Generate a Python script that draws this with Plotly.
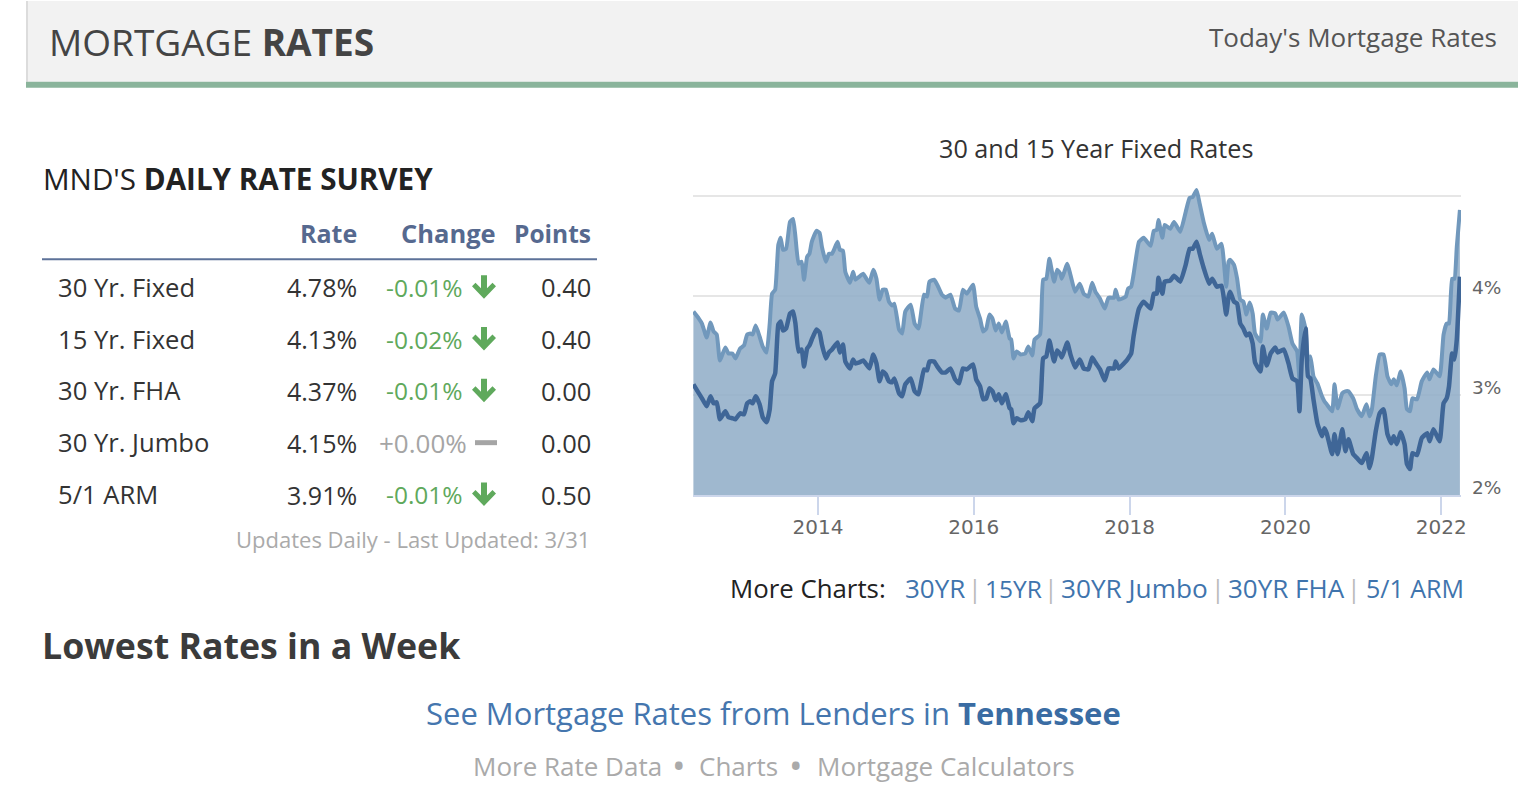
import plotly.graph_objects as go

# ---------------------------------------------
# Data
# ---------------------------------------------
dates = [
    2012.40, 2012.47, 2012.51, 2012.57, 2012.62, 2012.66, 2012.70, 2012.74, 2012.81, 2012.85,
    2012.90, 2012.94, 2013.00, 2013.05, 2013.09, 2013.13, 2013.16, 2013.20, 2013.25, 2013.29,
    2013.34, 2013.38, 2013.41, 2013.45, 2013.49, 2013.52, 2013.55, 2013.59, 2013.64, 2013.68,
    2013.71, 2013.75, 2013.79, 2013.82, 2013.86, 2013.89, 2013.92, 2013.98, 2014.02, 2014.05,
    2014.10, 2014.14, 2014.18, 2014.25, 2014.28, 2014.32, 2014.35, 2014.41, 2014.45, 2014.48,
    2014.53, 2014.58, 2014.62, 2014.66, 2014.71, 2014.75, 2014.79, 2014.83, 2014.87, 2014.91,
    2014.95, 2014.98, 2015.04, 2015.08, 2015.12, 2015.19, 2015.24, 2015.29, 2015.36, 2015.40,
    2015.43, 2015.49, 2015.53, 2015.59, 2015.64, 2015.70, 2015.76, 2015.81, 2015.86, 2015.91,
    2015.99, 2016.03, 2016.08, 2016.12, 2016.16, 2016.20, 2016.24, 2016.28, 2016.32, 2016.36,
    2016.41, 2016.46, 2016.48, 2016.51, 2016.55, 2016.60, 2016.66, 2016.70, 2016.75, 2016.78,
    2016.85, 2016.89, 2016.93, 2016.97, 2017.03, 2017.07, 2017.11, 2017.13, 2017.20, 2017.24,
    2017.30, 2017.36, 2017.41, 2017.47, 2017.52, 2017.56, 2017.62, 2017.68, 2017.73, 2017.80,
    2017.82, 2017.86, 2017.95, 2017.98, 2018.02, 2018.05, 2018.12, 2018.18, 2018.27, 2018.31,
    2018.35, 2018.37, 2018.42, 2018.45, 2018.52, 2018.57, 2018.65, 2018.72, 2018.77, 2018.81,
    2018.86, 2018.90, 2018.95, 2019.02, 2019.06, 2019.12, 2019.18, 2019.24, 2019.27, 2019.29,
    2019.34, 2019.38, 2019.42, 2019.46, 2019.50, 2019.54, 2019.58, 2019.61, 2019.68, 2019.71,
    2019.76, 2019.81, 2019.87, 2019.90, 2019.98, 2020.04, 2020.09, 2020.15, 2020.18, 2020.21,
    2020.26, 2020.29, 2020.32, 2020.36, 2020.41, 2020.47, 2020.50, 2020.53, 2020.60, 2020.63,
    2020.67, 2020.73, 2020.77, 2020.81, 2020.87, 2020.92, 2020.98, 2021.04, 2021.08, 2021.11,
    2021.16, 2021.21, 2021.26, 2021.31, 2021.36, 2021.39, 2021.43, 2021.48, 2021.53, 2021.56,
    2021.60, 2021.63, 2021.69, 2021.75, 2021.82, 2021.85, 2021.90, 2021.98, 2022.03, 2022.07,
    2022.10, 2022.14, 2022.17, 2022.20, 2022.24,
]
rate_30yr = [
    3.84, 3.77, 3.72, 3.58, 3.73, 3.64, 3.61, 3.35, 3.48, 3.42,
    3.42, 3.37, 3.47, 3.50, 3.61, 3.62, 3.61, 3.70, 3.59, 3.49,
    3.43, 3.72, 4.02, 4.06, 4.51, 4.58, 4.46, 4.47, 4.74, 4.77,
    4.59, 4.32, 4.34, 4.16, 4.39, 4.42, 4.54, 4.65, 4.63, 4.49,
    4.34, 4.42, 4.42, 4.54, 4.46, 4.45, 4.24, 4.13, 4.24, 4.16,
    4.19, 4.22, 4.17, 4.13, 4.26, 4.17, 3.96, 4.06, 4.06, 3.94,
    3.90, 3.92, 3.66, 3.62, 3.84, 3.91, 3.72, 3.67, 4.01, 3.99,
    4.14, 4.16, 4.11, 4.01, 3.98, 4.01, 3.87, 3.85, 4.06, 4.02,
    4.11, 3.89, 3.77, 3.64, 3.67, 3.81, 3.77, 3.65, 3.72, 3.63,
    3.74, 3.57, 3.56, 3.37, 3.44, 3.41, 3.42, 3.49, 3.40, 3.56,
    3.61, 4.16, 4.17, 4.37, 4.14, 4.26, 4.22, 4.17, 4.32, 4.21,
    4.04, 4.12, 4.02, 3.99, 4.13, 4.04, 3.97, 3.87, 3.98, 3.98,
    4.06, 3.96, 3.99, 4.07, 4.09, 4.21, 4.54, 4.58, 4.50, 4.65,
    4.66, 4.76, 4.58, 4.71, 4.67, 4.74, 4.64, 4.84, 4.98, 4.99,
    5.06, 4.92, 4.74, 4.56, 4.62, 4.47, 4.52, 4.09, 4.34, 4.36,
    4.31, 4.17, 3.96, 3.94, 3.81, 3.93, 3.82, 3.62, 3.54, 3.81,
    3.67, 3.83, 3.82, 3.76, 3.83, 3.69, 3.52, 3.44, 3.16, 3.81,
    3.66, 3.36, 3.39, 3.19, 3.12, 2.99, 2.94, 2.91, 2.84, 3.11,
    2.87, 3.02, 3.04, 3.04, 2.97, 2.86, 2.79, 2.91, 2.79, 2.86,
    3.19, 3.41, 3.41, 3.19, 3.11, 3.16, 3.10, 3.24, 3.07, 2.86,
    2.84, 2.97, 2.96, 3.14, 3.23, 3.16, 3.26, 3.19, 3.61, 3.72,
    3.72, 4.17, 4.17, 4.49, 4.86,
]
rate_15yr = [
    3.11, 3.02, 2.97, 2.89, 2.99, 2.92, 2.93, 2.76, 2.84, 2.78,
    2.77, 2.76, 2.82, 2.81, 2.92, 2.94, 2.92, 2.99, 2.91, 2.78,
    2.73, 2.86, 3.14, 3.22, 3.71, 3.74, 3.65, 3.67, 3.82, 3.84,
    3.72, 3.44, 3.46, 3.29, 3.47, 3.50, 3.56, 3.66, 3.63, 3.51,
    3.37, 3.43, 3.46, 3.53, 3.43, 3.51, 3.34, 3.27, 3.36, 3.32,
    3.33, 3.35, 3.31, 3.27, 3.41, 3.32, 3.14, 3.24, 3.21, 3.14,
    3.13, 3.17, 3.02, 2.99, 3.11, 3.17, 3.04, 3.01, 3.26, 3.25,
    3.34, 3.34, 3.29, 3.23, 3.23, 3.27, 3.16, 3.12, 3.27, 3.26,
    3.31, 3.16, 3.09, 2.96, 2.97, 3.07, 3.04, 2.95, 3.01, 2.92,
    3.01, 2.87, 2.86, 2.72, 2.77, 2.75, 2.76, 2.83, 2.74, 2.87,
    2.92, 3.37, 3.39, 3.55, 3.34, 3.45, 3.41, 3.38, 3.53, 3.41,
    3.28, 3.36, 3.27, 3.26, 3.38, 3.33, 3.26, 3.15, 3.27, 3.27,
    3.34, 3.27, 3.34, 3.37, 3.42, 3.59, 3.87, 3.94, 3.87, 4.02,
    4.02, 4.18, 4.02, 4.14, 4.15, 4.20, 4.14, 4.31, 4.47, 4.47,
    4.54, 4.42, 4.28, 4.12, 4.17, 4.09, 4.10, 3.81, 3.99, 4.04,
    3.94, 3.92, 3.72, 3.67, 3.60, 3.62, 3.52, 3.33, 3.24, 3.49,
    3.30, 3.42, 3.48, 3.43, 3.46, 3.32, 3.17, 3.14, 2.84, 3.36,
    3.67, 3.19, 3.17, 2.96, 2.72, 2.59, 2.67, 2.62, 2.41, 2.61,
    2.41, 2.66, 2.44, 2.56, 2.41, 2.37, 2.32, 2.42, 2.27, 2.37,
    2.64, 2.82, 2.86, 2.61, 2.52, 2.59, 2.51, 2.63, 2.51, 2.31,
    2.26, 2.42, 2.40, 2.57, 2.62, 2.54, 2.66, 2.54, 2.92, 2.97,
    3.09, 3.42, 3.36, 3.56, 4.19,
]

x_ticks = [2014, 2016, 2018, 2020, 2022]
y_ticks = [2, 3, 4, 5]
y_labels = ["2%", "3%", "4%"]

products = ["30 Yr. Fixed", "15 Yr. Fixed", "30 Yr. FHA", "30 Yr. Jumbo", "5/1 ARM"]
rates = ["4.78%", "4.13%", "4.37%", "4.15%", "3.91%"]
changes = ["-0.01%", "-0.02%", "-0.01%", "+0.00%", "-0.01%"]
points = ["0.40", "0.40", "0.00", "0.00", "0.50"]

FONT = "Open Sans"
W, H = 1522, 796
LEFT, RIGHT, TOP, BOTTOM = 693, 1461, 185.5, 495.5


# page pixels to paper fractions
def px(x):
    return (x - LEFT) / (RIGHT - LEFT)


def py(y):
    return (BOTTOM - y) / (BOTTOM - TOP)


fig = go.Figure()
fig.add_trace(go.Scatter(
    x=dates, y=rate_30yr, mode="lines", name="30 Yr. Fixed",
    line=dict(color="#7198bc", width=4, shape="spline", smoothing=0.4),
    fill="tozeroy", fillcolor="rgba(142,172,199,0.85)",
))
fig.add_trace(go.Scatter(
    x=dates, y=rate_15yr, mode="lines", name="15 Yr. Fixed",
    line=dict(color="#3f6697", width=4.5, shape="spline", smoothing=0.4),
))

annotations = []


def text(x, y, s, size, color, anchor="left"):
    annotations.append(dict(
        x=px(x), y=py(y), xref="paper", yref="paper", text=s, showarrow=False,
        xanchor=anchor, yanchor="middle", borderpad=0, borderwidth=0,
        font=dict(family=FONT, size=size, color=color),
    ))


shapes = [
    dict(type="rect", xref="paper", yref="paper", x0=px(27), x1=px(1518), y0=py(0), y1=py(81),
         fillcolor="#f2f2f2", line=dict(width=0), layer="below"),
    dict(type="rect", xref="paper", yref="paper", x0=px(26), x1=px(28), y0=py(0), y1=py(81),
         fillcolor="#dcdcdc", line=dict(width=0), layer="below"),
    dict(type="rect", xref="paper", yref="paper", x0=px(26), x1=px(1518), y0=py(81), y1=py(87),
         fillcolor="#8ab49b", line=dict(width=0), layer="below"),
    dict(type="line", xref="paper", yref="paper", x0=px(42), x1=px(597), y0=py(259), y1=py(259),
         line=dict(color="#5d7299", width=2)),
]


def down_arrow(cx, cy):
    pts = [(-3, -12), (3, -12), (3, 1), (8.5, -4.5), (12, -1), (0, 11.5),
           (-12, -1), (-8.5, -4.5), (-3, 1)]
    d = "M" + " L".join(f"{px(cx + a):.5f},{py(cy + b):.5f}" for a, b in pts) + " Z"
    return dict(type="path", xref="paper", yref="paper", path=d,
                fillcolor="#5fa95c", line=dict(width=0))


text(49, 41, "MORTGAGE <b>RATES</b>", 37, "#444444")
text(1497, 36, "Today's Mortgage Rates", 26, "#555555", "right")
text(43, 178, "MND'S <b>DAILY RATE SURVEY</b>", 29.6, "#222222")

text(357, 233, "<b>Rate</b>", 25, "#56698f", "right")
text(496, 233, "<b>Change</b>", 25.5, "#56698f", "right")
text(591, 233, "<b>Points</b>", 24.5, "#56698f", "right")

for i in range(len(products)):
    row_y = 287 + i * 52
    text(58, row_y, products[i], 25.6, "#333333")
    text(357, row_y, rates[i], 25, "#333333", "right")
    text(591, row_y, points[i], 25.5, "#333333", "right")
    if changes[i].startswith("+"):
        text(467, row_y, changes[i], 26, "#a5a5a5", "right")
        shapes.append(dict(type="rect", xref="paper", yref="paper", x0=px(475), x1=px(497),
                           y0=py(row_y - 2.5), y1=py(row_y + 2.5),
                           fillcolor="#a5a5a5", line=dict(width=0)))
    else:
        text(463, row_y, changes[i], 24.5, "#5fa95c", "right")
        shapes.append(down_arrow(484, row_y))

text(590, 540, "Updates Daily - Last Updated: 3/31", 22, "#aaaaaa", "right")

text(1096, 147, "30 and 15 Year Fixed Rates", 25.2, "#333333", "center")

text(730, 589, "More Charts:", 25.8, "#222222")
for left, label, size in [(905, "30YR", 26), (985, "15YR", 24.5), (1061, "30YR Jumbo", 26.2),
                          (1228, "30YR FHA", 26), (1366, "5/1 ARM", 25)]:
    text(left, 589, label, size, "#3f74ad")
for sep_x in [975, 1051, 1218, 1354]:
    text(sep_x, 589, "|", 25, "#bbbbbb", "center")

text(42, 646, "<b>Lowest Rates in a Week</b>", 35.7, "#3b3b3b")
text(773, 714, "See Mortgage Rates from Lenders in <b style='color:#3a6ca3'>Tennessee</b>", 31, "#4576ae", "center")
text(473, 767, "More Rate Data", 26, "#aaaaaa")
text(679, 767, "•", 36, "#aaaaaa", "center")
text(699, 767, "Charts", 26, "#aaaaaa")
text(796, 767, "•", 36, "#aaaaaa", "center")
text(817, 767, "Mortgage Calculators", 26, "#aaaaaa")

# the % labels sit a little above their grid lines
for value, label in zip(y_ticks, y_labels):
    annotations.append(dict(
        x=1, y=value, xref="paper", yref="y", text=label, showarrow=False,
        xanchor="left", yanchor="middle", xshift=9, yshift=8,
        font=dict(family="DejaVu Sans", size=18.5, color="#666666"),
    ))

fig.update_layout(
    width=W, height=H, showlegend=False, hovermode=False,
    paper_bgcolor="white", plot_bgcolor="white",
    margin=dict(l=LEFT, r=W - RIGHT, t=TOP, b=H - BOTTOM, pad=0, autoexpand=False),
    annotations=annotations, shapes=shapes,
    xaxis=dict(
        range=[2012.395, 2022.254], tickvals=x_ticks, tickformat="d", showgrid=False, zeroline=False,
        showline=True, linecolor="#ccd6eb", linewidth=2,
        ticks="outside", ticklen=18, tickwidth=2, tickcolor="#ccd6eb",
        ticklabelstandoff=-5,
        tickfont=dict(family="DejaVu Sans", size=20, color="#666666"),
    ),
    yaxis=dict(
        range=[2, 5.1], side="right", tickvals=y_ticks, showticklabels=False,
        showgrid=True, gridcolor="#e6e6e6", gridwidth=2, zeroline=False, showline=False,
        ticks="",
    ),
)

fig.write_html("out.html", config={"displayModeBar": False},
               post_script="document.body.style.margin='0';")
